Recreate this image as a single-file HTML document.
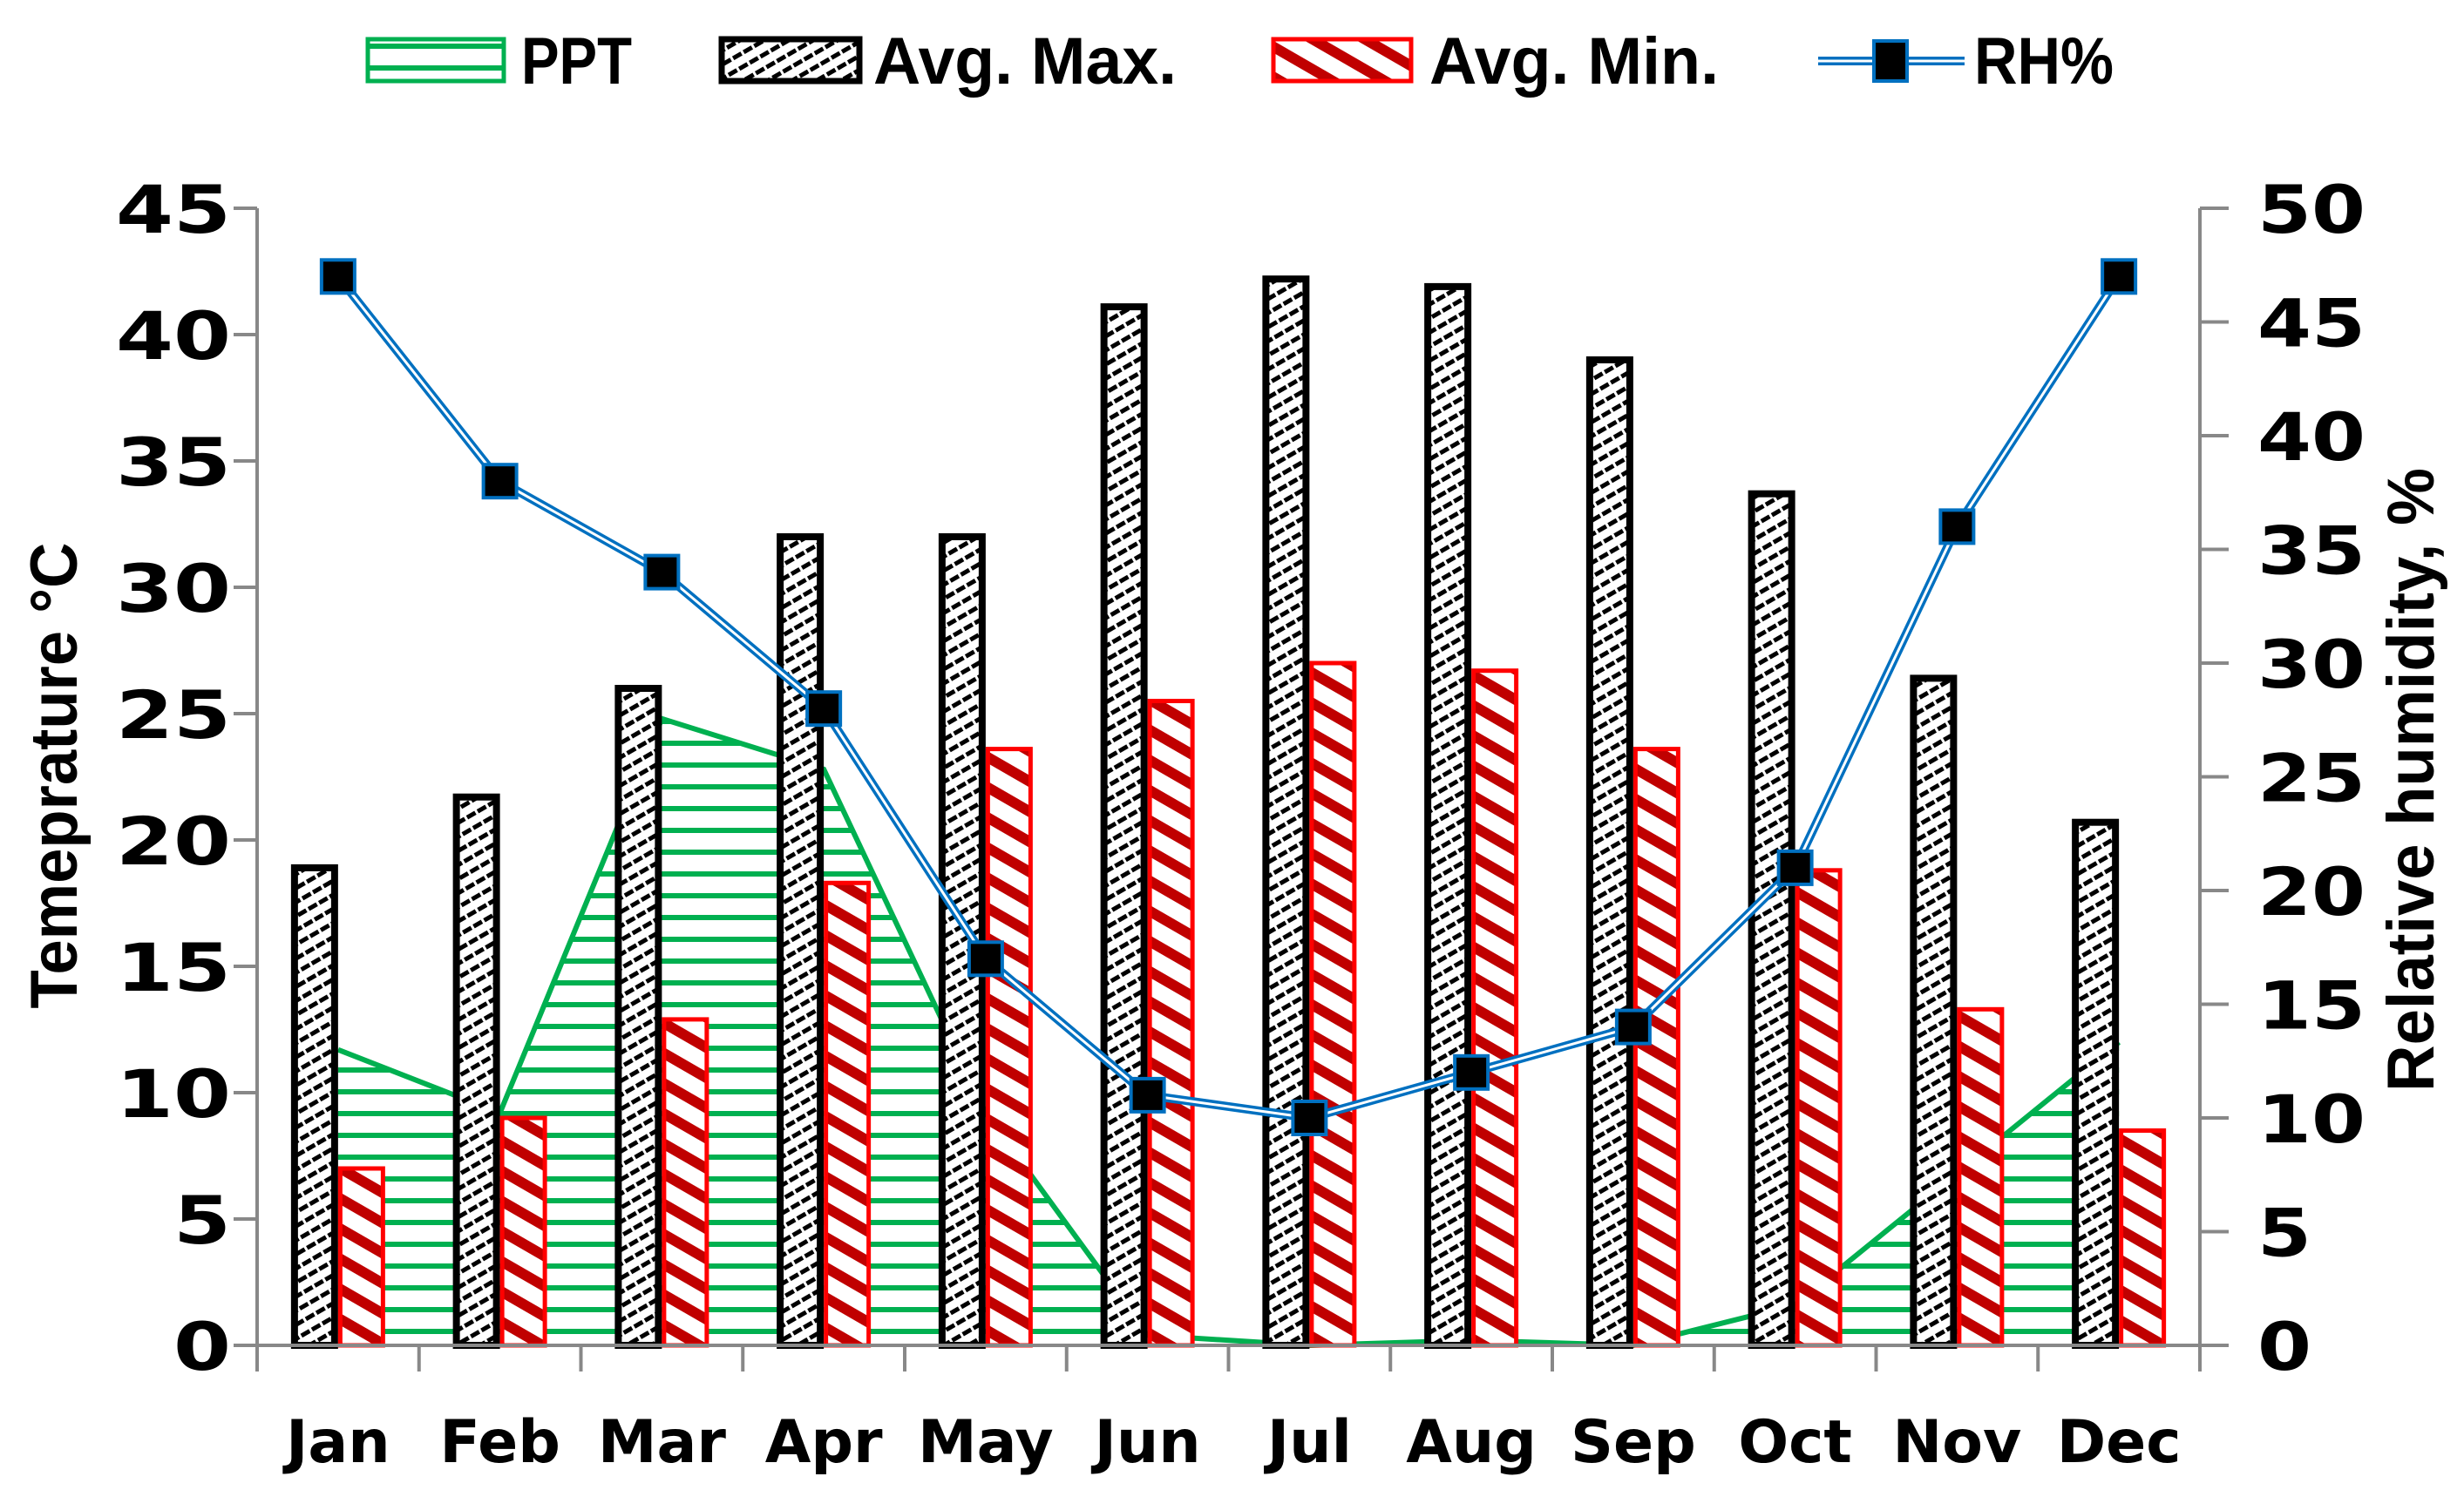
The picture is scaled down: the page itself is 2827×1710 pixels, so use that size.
<!DOCTYPE html>
<html><head><meta charset="utf-8"><style>
html,body{margin:0;padding:0;background:#fff}
svg{display:block}
text{font-family:"Liberation Sans",sans-serif;font-weight:bold;fill:#000}
.wide{font-family:"DejaVu Sans","Liberation Sans",sans-serif}
</style></head><body>
<svg id="chart" width="2827" height="1710" viewBox="0 0 2827 1710" xmlns="http://www.w3.org/2000/svg">
<defs>
<pattern id="pGreen" patternUnits="userSpaceOnUse" width="20" height="25"><rect width="20" height="25" fill="#fff"/><rect y="0" width="20" height="6" fill="#00B050"/></pattern>
<pattern id="pBlack" patternUnits="userSpaceOnUse" width="14" height="14" patternTransform="rotate(-30)"><rect width="14" height="14" fill="#fff"/><rect width="14" height="5" fill="#000"/><rect x="6" width="3" height="14" fill="#fff"/></pattern>
<pattern id="pRed" patternUnits="userSpaceOnUse" width="30" height="30" patternTransform="rotate(30)"><rect width="30" height="30" fill="#fff"/><rect width="30" height="12" fill="#C00000"/></pattern>
</defs>
<g id="plot"></g>
</svg>
<script>
const months=["Jan","Feb","Mar","Apr","May","Jun","Jul","Aug","Sep","Oct","Nov","Dec"];
const avgMax=[18.9,21.7,26,32,32,41.1,42.2,41.9,39,33.7,26.4,20.7];
const avgMin=[7,9,12.9,18.3,23.6,25.5,27,26.7,23.6,18.8,13.3,8.5];
const ppt=[11.7,9.2,24.8,22.8,9.2,0.4,0,0.2,0,1.6,6.8,12];
const rh=[47,38,34,28,17,11,10,12,14,21,36,47];
const leftTicks=[0,5,10,15,20,25,30,35,40,45];
const rightTicks=[0,5,10,15,20,25,30,35,40,45,50];

const NS="http://www.w3.org/2000/svg";
const g=document.getElementById('plot');
const X0=295,X1=2524,Y0=1544,YT=239;
const band=(X1-X0)/months.length;
const xc=i=>X0+band*(i+0.5);
const yL=v=>Y0-(Y0-YT)*v/45;
const yR=v=>Y0-(Y0-YT)*v/50;
function el(tag,attrs,parent){const e=document.createElementNS(NS,tag);for(const k in attrs)e.setAttribute(k,attrs[k]);(parent||g).appendChild(e);return e;}

let d="M"+xc(0)+","+Y0;
ppt.forEach((v,i)=>{d+=" L"+xc(i)+","+yL(v);});
d+=" L"+xc(ppt.length-1)+","+Y0+" Z";
const area=el('path',{d:d,fill:"url(#pGreen)"});


let dl="M"+xc(0)+","+yL(ppt[0]);
ppt.forEach((v,i)=>{if(i)dl+=" L"+xc(i)+","+yL(v);});
const pl=el('path',{d:dl,fill:"none",stroke:"#00B050","stroke-width":6});



const BW=54;
months.forEach((m,i)=>{
  const b=el('rect',{x:xc(i)-BW+4,y:yL(avgMax[i]),width:BW-8,height:Y0-yL(avgMax[i]),fill:"url(#pBlack)",stroke:"#000","stroke-width":8});
  
  
  const r=el('rect',{x:xc(i)+2.5,y:yL(avgMin[i]),width:BW-5,height:Y0-yL(avgMin[i]),fill:"url(#pRed)",stroke:"#FF0000","stroke-width":5});
  
  
});

const ax=el('path',{d:`M${X0},${YT} V${Y0+30} M${X1},${YT} V${Y0+30} M${X0-27},${Y0} H${X1+33}`,stroke:"#888","stroke-width":4,fill:"none"});


leftTicks.forEach(v=>{
  const t=el('line',{x1:X0-27,x2:X0,y1:yL(v),y2:yL(v),stroke:"#888","stroke-width":4});
  
  
  const s=String(v);
  const tx=el('text',{class:"wide",x:265,y:yL(v)+28,"text-anchor":"end","font-size":76,textLength:66*s.length,lengthAdjust:"spacingAndGlyphs"});
  tx.textContent=s;
  
  
});
rightTicks.forEach(v=>{
  const t=el('line',{x1:X1,x2:X1+33,y1:yR(v),y2:yR(v),stroke:"#888","stroke-width":4});
  
  
  const s=String(v);
  const tx=el('text',{class:"wide",x:2590,y:yR(v)+28,"text-anchor":"start","font-size":76,textLength:62*s.length,lengthAdjust:"spacingAndGlyphs"});
  tx.textContent=s;
  
  
});
for(let i=1;i<months.length;i++){
  const t=el('line',{x1:X0+band*i,x2:X0+band*i,y1:Y0,y2:Y0+30,stroke:"#888","stroke-width":4});
  
  
}
months.forEach((m,i)=>{
  const tx=el('text',{class:"wide",x:xc(i),y:1678,"text-anchor":"middle","font-size":68});
  tx.textContent=m;
  
  
});

let dr="";
rh.forEach((v,i)=>{dr+=(i?" L":"M")+xc(i)+","+yR(v);});
const rl1=el('path',{d:dr,fill:"none",stroke:"#0070C0","stroke-width":10});


const rl2=el('path',{d:dr,fill:"none",stroke:"#fff","stroke-width":3});


rh.forEach((v,i)=>{
  const mk=el('rect',{x:xc(i)-19,y:yR(v)-19,width:38,height:38,fill:"#000",stroke:"#0070C0","stroke-width":4});
  
  
});

const lt=el('text',{x:0,y:0,"text-anchor":"middle","font-size":76,textLength:535,lengthAdjust:"spacingAndGlyphs",transform:"translate(88,890) rotate(-90)"});
lt.textContent="Temeprature °C";


const rt=el('text',{x:0,y:0,"text-anchor":"middle","font-size":76,textLength:716,lengthAdjust:"spacingAndGlyphs",transform:"translate(2792,895) rotate(-90)"});
rt.textContent="Relative humidity, %";



const lg=el('g',{});


function legText(x,s,w){const t=el('text',{x:x,y:96,"font-size":76,textLength:w,lengthAdjust:"spacingAndGlyphs"},lg);t.textContent=s;}
const s1=el('rect',{x:422,y:45,width:156,height:48,fill:"url(#pGreen)",stroke:"#00B050","stroke-width":5},lg);


legText(598,"PPT",127);
const s2=el('rect',{x:828,y:45,width:158,height:48,fill:"url(#pBlack)",stroke:"#000","stroke-width":7},lg);


legText(1002,"Avg. Max.",348);
const s3=el('rect',{x:1461,y:45,width:158,height:48,fill:"url(#pRed)",stroke:"#FF0000","stroke-width":5},lg);


legText(1640,"Avg. Min.",332);
const s4a=el('line',{x1:2086,x2:2254,y1:70,y2:70,stroke:"#0070C0","stroke-width":10},lg);


const s4b=el('line',{x1:2086,x2:2254,y1:70,y2:70,stroke:"#fff","stroke-width":3},lg);


const s4c=el('rect',{x:2150,y:47,width:38,height:46,fill:"#000",stroke:"#0070C0","stroke-width":4},lg);


legText(2265,"RH%",160);
</script>
</body></html>
